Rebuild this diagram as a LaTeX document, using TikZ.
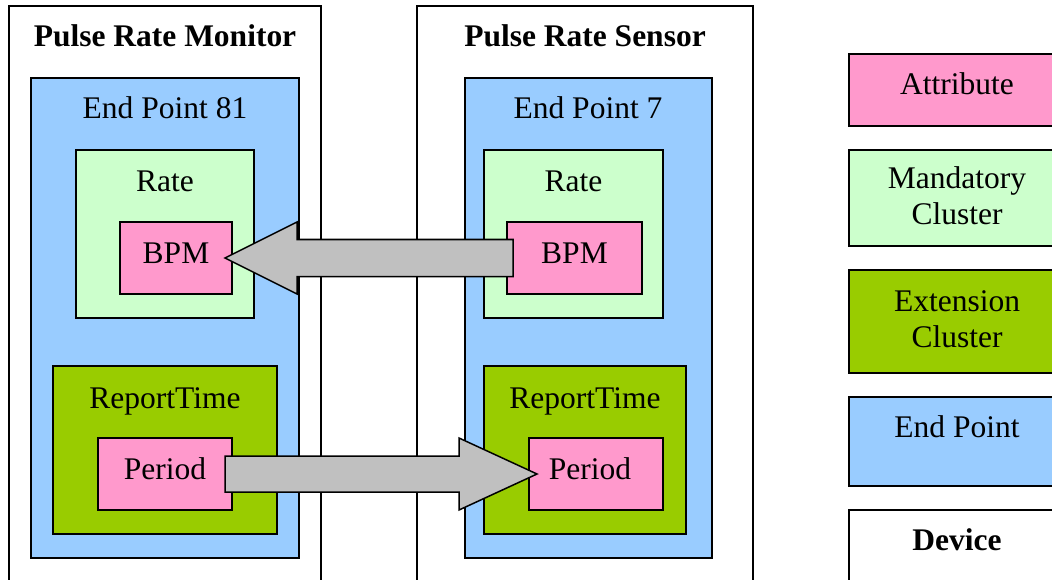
\documentclass[tikz,border=0pt]{standalone}
\usepackage{fontspec}
\setmainfont{Liberation Serif}
\usetikzlibrary{calc}

\definecolor{attrpink}{HTML}{FF99CC}
\definecolor{mandgreen}{HTML}{CCFFCC}
\definecolor{extgreen}{HTML}{99CC00}
\definecolor{epblue}{HTML}{99CCFF}
\definecolor{flowgray}{HTML}{C0C0C0}

\tikzset{
  box/.style={draw=black, line width=1.5pt, inner sep=0pt, outer sep=0pt, anchor=north west},
  device/.style={box, fill=white},
  endpoint/.style={box, fill=epblue},
  mandatory/.style={box, fill=mandgreen},
  extension/.style={box, fill=extgreen},
  attribute/.style={box, fill=attrpink},
  txt/.style={font=\fontsize{31.5}{36}\selectfont, inner sep=0pt, anchor=base, align=center},
  btxt/.style={txt, font=\fontsize{31.5}{36}\selectfont\bfseries},
  blockarrow/.style={draw=black, line width=1.5pt, fill=flowgray, line join=miter},
}

\begin{document}
\begin{tikzpicture}[x=1pt, y=-1pt]
\useasboundingbox (0,0) rectangle (1052,580);
\clip (0,0) rectangle (1052,580);

% ---- Pulse Rate Monitor ----
\node[device, minimum width=312pt, minimum height=594pt] (monDev) at (9,6) {};
\node[endpoint, minimum width=268pt, minimum height=480pt] (monEP) at (31,78) {};
\node[mandatory, minimum width=178pt, minimum height=168pt] (monRate) at (76,150) {};
\node[attribute, minimum width=112pt, minimum height=72pt] (monBPM) at (120,222) {};
\node[extension, minimum width=224pt, minimum height=168pt] (monRT) at (53,366) {};
\node[attribute, minimum width=134pt, minimum height=72pt] (monPer) at (98,438) {};

\node[btxt] (monDevT) at (165,47) {Pulse Rate Monitor};
\node[txt] (monEPT) at (165,119) {End Point 81};
\node[txt] (monRateT) at (165,192) {Rate};
\node[txt] (monBPMT) at (176,263) {BPM};
\node[txt] (monRTT) at (165,408) {ReportTime};
\node[txt] (monPerT) at (165,479) {Period};

% ---- Pulse Rate Sensor ----
\node[device, minimum width=336pt, minimum height=594pt] (senDev) at (417,6) {};
\node[endpoint, minimum width=247pt, minimum height=480pt] (senEP) at (465,78) {};
\node[mandatory, minimum width=179pt, minimum height=168pt] (senRate) at (484,150) {};
\node[attribute, minimum width=135pt, minimum height=72pt] (senBPM) at (507,222) {};
\node[extension, minimum width=202pt, minimum height=168pt] (senRT) at (484,366) {};
\node[attribute, minimum width=134pt, minimum height=72pt] (senPer) at (529,438) {};

\node[btxt] (senDevT) at (585,47) {Pulse Rate Sensor};
\node[txt] (senEPT) at (588,119) {End Point 7};
\node[txt] (senRateT) at (573.5,192) {Rate};
\node[txt] (senBPMT) at (574.5,263) {BPM};
\node[txt] (senRTT) at (585,408) {ReportTime};
\node[txt] (senPerT) at (590,479) {Period};

% ---- Data flows ----
% BPM reported from the sensor to the monitor
\path (monBPM.east) ++(-7,0) coordinate (bpmTip);
\path (senBPM.west) ++(6,0) coordinate (bpmTail);
\draw[blockarrow] (bpmTip) -- ($(bpmTip)+(72,-36)$) -- ($(bpmTip)+(72,-18.5)$)
  -- ($(bpmTail)+(0,-18.5)$) -- ($(bpmTail)+(0,18.5)$)
  -- ($(bpmTip)+(72,18.5)$) -- ($(bpmTip)+(72,36)$) -- cycle;

% Period configured by the monitor on the sensor
\path (senPer.west) ++(8,0) coordinate (perTip);
\path (monPer.east) ++(-7,0) coordinate (perTail);
\draw[blockarrow] (perTip) -- ($(perTip)+(-78,-36)$) -- ($(perTip)+(-78,-18)$)
  -- ($(perTail)+(0,-18)$) -- ($(perTail)+(0,18)$)
  -- ($(perTip)+(-78,18)$) -- ($(perTip)+(-78,36)$) -- cycle;

% ---- Legend ----
\node[attribute, minimum width=216pt, minimum height=72pt] (legAttr) at (849,54) {};
\node[mandatory, minimum width=216pt, minimum height=96pt] (legMand) at (849,150) {};
\node[extension, minimum width=216pt, minimum height=103pt] (legExt) at (849,270) {};
\node[endpoint, minimum width=216pt, minimum height=89pt] (legEP) at (849,397) {};
\node[device, minimum width=216pt, minimum height=90pt] (legDev) at (849,510) {};

% two-line labels sit on the baseline of their last line
\node[txt] (legAttrT) at (957,95) {Attribute};
\node[txt] (legMandT) at (957,225) {Mandatory\\Cluster};
\node[txt] (legExtT) at (957,347) {Extension\\Cluster};
\node[txt] (legEPT) at (957,437) {End Point};
\node[btxt] (legDevT) at (957,550) {Device};
\end{tikzpicture}
\end{document}
